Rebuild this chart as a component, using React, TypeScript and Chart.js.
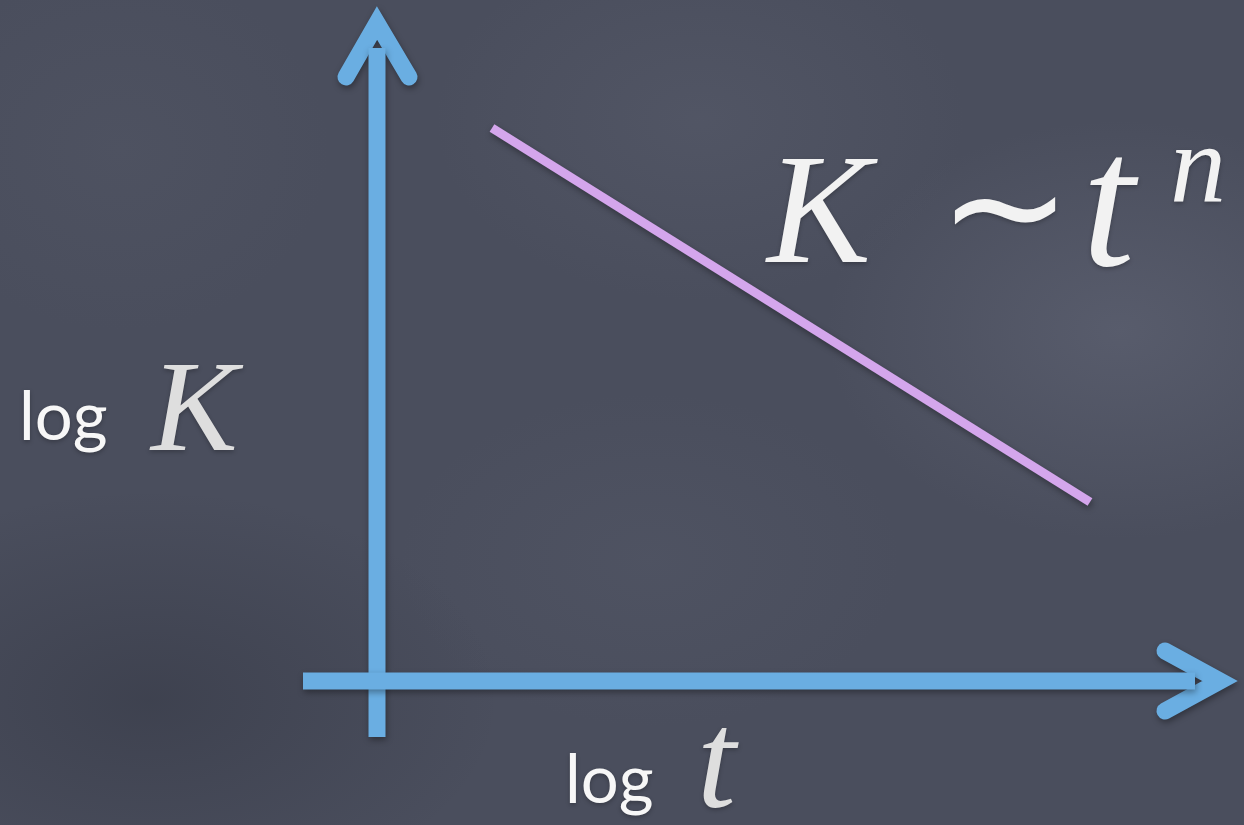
import { useEffect, useRef } from "react";
import { Chart, registerables } from "chart.js";

Chart.register(...registerables);

// Schematic log–log plot: origin of the axes sits at (0, 0).
const trendLine = [
  { x: 1.15, y: 5.53 },
  { x: 7.13, y: 1.79 },
];
const verticalAxis = [
  { x: 0, y: -0.56 },
  { x: 0, y: 6.33 },
];
const verticalArrow = [
  { x: -0.31, y: 6.04 },
  { x: 0, y: 6.58 },
  { x: 0.32, y: 6.04 },
];
const horizontalAxis = [
  { x: -0.74, y: 0 },
  { x: 8.18, y: 0 },
];
const horizontalArrow = [
  { x: 7.88, y: 0.3 },
  { x: 8.43, y: 0 },
  { x: 7.88, y: -0.3 },
];

const yLabelWord = "log";
const yLabelSymbol = "K";
const xLabelWord = "log";
const xLabelSymbol = "t";
const lawLeft = "K";
const lawTilde = "∼";
const lawBase = "t";
const lawExponent = "n";

const AXIS_BLUE = "rgb(106, 174, 226)";
const LINE_PURPLE = "rgb(212, 166, 236)";

const WIDTH = 1244;
const HEIGHT = 825;

const MATH_SERIF = "'Times New Roman', serif";
const ROUND_SANS = "Lato, 'Noto Sans', sans-serif";

type Label = {
  text: string;
  x: number;
  y: number;
  font: string;
  color: string;
  align?: CanvasTextAlign;
};

const labels: Label[] = [
  { text: yLabelWord, x: -3.58, y: 2.41, font: `400 67px ${ROUND_SANS}`, color: "#f7f7f7" },
  { text: yLabelSymbol, x: -2.26, y: 2.31, font: `italic 130px ${MATH_SERIF}`, color: "#dedede" },
  { text: xLabelWord, x: 1.88, y: -1.22, font: `400 67px ${ROUND_SANS}`, color: "#f7f7f7" },
  { text: xLabelSymbol, x: 3.2, y: -1.26, font: `italic 140px ${MATH_SERIF}`, color: "#dedede" },
  { text: lawLeft, x: 3.9, y: 4.19, font: `italic 156px ${MATH_SERIF}`, color: "#f2f2f2" },
  { text: lawTilde, x: 6.28, y: 4.2, font: `160px ${MATH_SERIF}`, color: "#f2f2f2", align: "center" },
  { text: lawBase, x: 7.05, y: 4.16, font: `italic 190px ${MATH_SERIF}`, color: "#f2f2f2" },
  { text: lawExponent, x: 7.93, y: 4.79, font: `italic 112px ${MATH_SERIF}`, color: "#f2f2f2" },
];

const chalkShadow = {
  id: "chalkShadow",
  beforeDatasetDraw(chart: Chart) {
    const ctx = chart.ctx;
    ctx.save();
    ctx.shadowColor = "rgba(0, 0, 0, 0.35)";
    ctx.shadowBlur = 6;
    ctx.shadowOffsetX = 1;
    ctx.shadowOffsetY = 3;
  },
  afterDatasetDraw(chart: Chart) {
    chart.ctx.restore();
  },
};

const textLabels = {
  id: "textLabels",
  afterDatasetsDraw(chart: Chart) {
    const ctx = chart.ctx;
    const xs = chart.scales.x;
    const ys = chart.scales.y;
    ctx.save();
    ctx.textBaseline = "alphabetic";
    ctx.shadowColor = "rgba(0, 0, 0, 0.25)";
    ctx.shadowBlur = 4;
    ctx.shadowOffsetY = 2;
    for (const l of labels) {
      ctx.font = l.font;
      ctx.fillStyle = l.color;
      ctx.textAlign = l.align ?? "left";
      ctx.fillText(l.text, xs.getPixelForValue(l.x), ys.getPixelForValue(l.y));
    }
    ctx.restore();
  },
};

function segment(data: { x: number; y: number }[], color: string, width: number, cap: CanvasLineCap) {
  return {
    data,
    borderColor: color,
    borderWidth: width,
    borderCapStyle: cap,
    borderJoinStyle: "miter" as CanvasLineJoin,
    pointRadius: 0,
    showLine: true,
    fill: false,
    tension: 0,
  };
}

export default function App() {
  const canvasRef = useRef<HTMLCanvasElement | null>(null);

  useEffect(() => {
    document.body.style.margin = "0";
    const canvas = canvasRef.current;
    if (!canvas) return;
    const chart = new Chart(canvas, {
      type: "scatter",
      data: {
        datasets: [
          segment(trendLine, LINE_PURPLE, 9, "butt"),
          segment(horizontalAxis, AXIS_BLUE, 17, "butt"),
          segment(horizontalArrow, AXIS_BLUE, 17, "round"),
          segment(verticalAxis, AXIS_BLUE, 17, "butt"),
          segment(verticalArrow, AXIS_BLUE, 17, "round"),
        ] as any,
      },
      options: {
        responsive: false,
        animation: false,
        devicePixelRatio: 1,
        layout: { padding: 0 },
        plugins: {
          legend: { display: false },
          tooltip: { enabled: false },
          title: { display: false },
        },
        scales: {
          x: { type: "linear", min: -3.77, max: 8.67, display: false },
          y: { type: "linear", min: -1.44, max: 6.81, display: false },
        },
      },
      plugins: [chalkShadow, textLabels],
    });
    // redraw once the label faces are ready
    let alive = true;
    Promise.all(labels.map((l) => document.fonts.load(l.font, l.text)))
      .catch(() => undefined)
      .then(() => {
        if (alive) chart.draw();
      });
    return () => {
      alive = false;
      chart.destroy();
    };
  }, []);

  return (
    <div
      style={{
        width: WIDTH,
        height: HEIGHT,
        overflow: "hidden",
        backgroundColor: "#4a4e5d",
        backgroundImage: [
          "radial-gradient(ellipse 420px 300px at 1120px 330px, rgba(120,124,142,0.3), rgba(120,124,142,0) 70%)",
          "radial-gradient(ellipse 380px 260px at 700px 120px, rgba(110,114,130,0.2), rgba(110,114,130,0) 70%)",
          "radial-gradient(ellipse 500px 300px at 150px 700px, rgba(40,43,54,0.35), rgba(40,43,54,0) 70%)",
          "radial-gradient(ellipse 360px 240px at 650px 560px, rgba(105,110,126,0.15), rgba(105,110,126,0) 70%)",
          "radial-gradient(ellipse 300px 260px at 120px 150px, rgba(92,96,110,0.22), rgba(92,96,110,0) 70%)",
        ].join(", "),
      }}
    >
      <canvas ref={canvasRef} width={WIDTH} height={HEIGHT} style={{ display: "block" }} />
    </div>
  );
}
